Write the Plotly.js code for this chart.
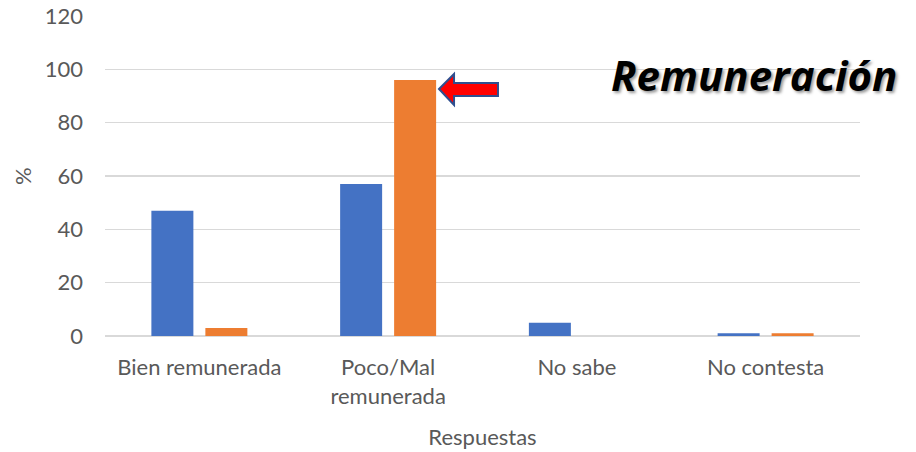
<!DOCTYPE html>
<html>
<head>
<meta charset="utf-8">
<script src="https://cdn.plot.ly/plotly-3.0.1.min.js"></script>
<style>html,body{margin:0;padding:0;background:#fff}#chart{width:916px;height:452px}</style>
</head>
<body>
<div id="chart"></div>
<script>
const categories = ["Bien remunerada", "Poco/Mal<br>remunerada", "No sabe", "No contesta"];
const seriesA = [47, 57, 5, 1];
const seriesB = [3, 96, 0, 1];
const yTicks = [0, 20, 40, 60, 80, 100, 120];

const fontFam = "Lato, 'Open Sans', sans-serif";
const txt = "#595959";

const traces = [
  {type: "bar", x: categories, y: seriesA, name: "A",
   marker: {color: "#4472C4", line: {width: 0}}},
  {type: "bar", x: categories, y: seriesB, name: "B",
   marker: {color: "#ED7D31", line: {width: 0}}}
];

// arrow in paper coordinates
function px(x){ return ((x - 105) / 755).toFixed(4); }
function py(y){ return ((336 - y) / 320).toFixed(4); }
const arrowPts = [[439,89],[454,74],[454,83],[498,83],[498,96],[454,96],[454,105]];
const arrowPath = "M " + arrowPts.map(p => px(p[0]) + "," + py(p[1])).join(" L ") + " Z";

const layout = {
  width: 916, height: 452,
  margin: {l: 105, r: 56, t: 16, b: 116},
  paper_bgcolor: "#fff", plot_bgcolor: "#fff",
  showlegend: false,
  barmode: "group", bargap: 0.428, bargroupgap: 0.222,
  font: {family: fontFam, color: txt, size: 22},
  xaxis: {
    type: "category", showgrid: false, showline: false, zeroline: false,
    ticks: "", ticklabelstandoff: 16,
    tickfont: {family: fontFam, size: 22, color: txt},
    title: {text: "Respuestas", font: {family: fontFam, size: 22, color: txt}, standoff: 22}
  },
  yaxis: {
    range: [0, 120], tickvals: yTicks, ticktext: yTicks.map(String),
    showgrid: true, gridcolor: "#d9d9d9", gridwidth: 1.5,
    zeroline: true, zerolinecolor: "#d9d9d9", zerolinewidth: 1.5,
    showline: false, ticks: "", ticklabelstandoff: 21,
    tickfont: {family: fontFam, size: 22, color: txt}
  },
  annotations: [{
    xref: "paper", yref: "paper", x: -0.11, y: 0.5, xanchor: "center", yanchor: "middle",
    text: "%", textangle: -90, showarrow: false,
    font: {family: fontFam, size: 22, color: txt}
  }, {
    xref: "paper", yref: "paper", x: 1.052, y: 0.816, xanchor: "right", yanchor: "middle",
    text: "Remuneración", showarrow: false,
    font: {family: "'Open Sans', Lato, sans-serif", size: 42, color: "#000", style: "italic", weight: 700,
           shadow: "2px 2px 3px #999"}
  }],
  shapes: [{
    type: "path", xref: "paper", yref: "paper", path: arrowPath,
    fillcolor: "#FF0000", line: {color: "#2F4F8F", width: 2}
  }]
};

Plotly.newPlot("chart", traces, layout, {displayModeBar: false, staticPlot: true});
</script>
</body>
</html>
